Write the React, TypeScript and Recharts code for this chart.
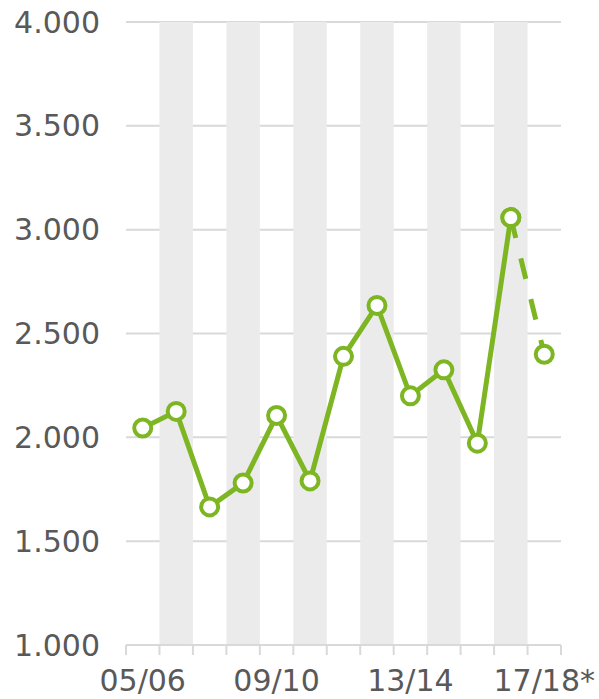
import React from 'react';
import {
  LineChart,
  Line,
  XAxis,
  YAxis,
  CartesianGrid,
  ReferenceArea,
} from 'recharts';

const seasons = ['05/06', '06/07', '07/08', '08/09', '09/10', '10/11', '11/12', '12/13', '13/14', '14/15', '15/16', '16/17', '17/18*'];
const actual = [2045, 2125, 1665, 1780, 2105, 1790, 2390, 2635, 2200, 2325, 1972, 3058, null];
const forecast = [null, null, null, null, null, null, null, null, null, null, null, 3058, 2400];
const yTicks = [1000, 1500, 2000, 2500, 3000, 3500, 4000];
const labelledSeasons = ['05/06', '09/10', '13/14', '17/18*'];
const shadedSeasons = seasons.filter((_, i) => i % 2 === 1);

const data = seasons.map((season, i) => ({
  season,
  actual: actual[i],
  forecast: forecast[i],
}));

const W = 599;
const H = 699;
const LEFT = 126;
const RIGHT = 38;
const GREEN = '#7db622';
const GRID = '#d9d9d9';
const TEXT = '#595959';
const FONT = '"DejaVu Sans", Verdana, sans-serif';
const TICK_SIZE = 8;
const TICK_MARGIN = 17;
const BAND_W = (W - LEFT - RIGHT) / seasons.length;

const fmt = (v: number) => String(v).replace(/\B(?=(\d{3})+(?!\d))/g, '.');

const dotStyle = { r: 8.5, fill: '#fff', stroke: GREEN, strokeWidth: 4, strokeDasharray: 'none' };

function SeasonTick(props: any) {
  const { x, y, payload, index } = props;
  const axisY = y - TICK_SIZE - TICK_MARGIN;
  const left = x - BAND_W / 2;
  return (
    <g>
      <line x1={left} x2={left} y1={axisY} y2={axisY + 10} stroke={GRID} strokeWidth={2} />
      {index === seasons.length - 1 && (
        <line x1={x + BAND_W / 2} x2={x + BAND_W / 2} y1={axisY} y2={axisY + 10} stroke={GRID} strokeWidth={2} />
      )}
      {labelledSeasons.includes(payload.value) && (
        <text x={x} y={y} dy="0.71em" textAnchor="middle" fill={TEXT} fontSize={30} fontFamily={FONT}>
          {payload.value}
        </text>
      )}
    </g>
  );
}

export default function App() {
  return (
    <div style={{ position: 'absolute', left: 0, top: 0, width: W, height: H, background: '#fff' }}>
      <LineChart width={W} height={H} data={data} margin={{ top: 22, right: RIGHT, bottom: 0, left: 0 }}>
        {shadedSeasons.map((s) => (
          <ReferenceArea key={s} x1={s} x2={s} fill="#ebebeb" fillOpacity={1} stroke="none" />
        ))}
        <CartesianGrid vertical={false} stroke={GRID} strokeWidth={2} />
        <XAxis
          dataKey="season"
          scale="band"
          interval={0}
          height={54}
          tickLine={false}
          tickSize={TICK_SIZE}
          tickMargin={TICK_MARGIN}
          axisLine={{ stroke: GRID, strokeWidth: 2 }}
          tick={<SeasonTick />}
        />
        <YAxis
          width={LEFT}
          domain={[1000, 4000]}
          ticks={yTicks}
          tickFormatter={fmt}
          axisLine={false}
          tickLine={false}
          tickMargin={20}
          tick={{ fill: TEXT, fontSize: 30, fontFamily: FONT }}
        />
        <Line
          dataKey="forecast"
          stroke={GREEN}
          strokeWidth={5}
          strokeDasharray="21 21"
          dot={dotStyle}
          activeDot={false}
          connectNulls={false}
          isAnimationActive={false}
        />
        <Line
          dataKey="actual"
          stroke={GREEN}
          strokeWidth={5}
          dot={dotStyle}
          activeDot={false}
          connectNulls={false}
          isAnimationActive={false}
        />
      </LineChart>
    </div>
  );
}
